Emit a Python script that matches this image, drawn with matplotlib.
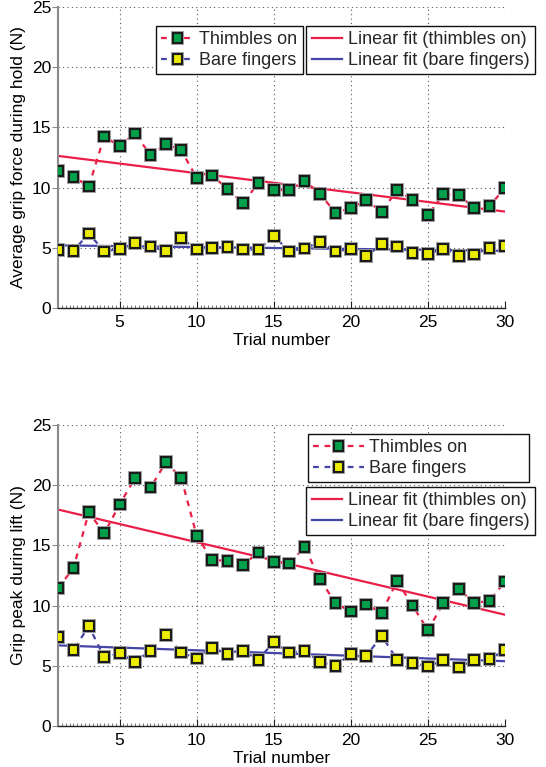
import matplotlib
matplotlib.use('Agg')
import matplotlib.pyplot as plt
import matplotlib.patheffects as pe
from matplotlib.legend_handler import HandlerTuple
from matplotlib.ticker import MultipleLocator
import numpy as np

plt.rcParams['font.family'] = ['Liberation Sans', 'DejaVu Sans']
plt.rcParams['font.size'] = 12.5
plt.rcParams['text.color'] = '#262626'

trials = np.arange(1, 31)

# grip force during hold (N)
hold_thimbles = [11.4, 10.9, 10.1, 14.25, 13.45, 14.5, 12.7, 13.6, 13.1, 10.8,
                 11.0, 9.9, 8.7, 10.4, 9.8, 9.8, 10.55, 9.5, 7.9, 8.3,
                 8.95, 8.0, 9.8, 9.0, 7.7, 9.45, 9.4, 8.3, 8.5, 9.95]
hold_bare = [4.8, 4.75, 6.2, 4.7, 4.9, 5.4, 5.1, 4.75, 5.8, 4.85,
             5.0, 5.05, 4.85, 4.85, 6.0, 4.7, 4.95, 5.5, 4.7, 4.9,
             4.3, 5.3, 5.1, 4.6, 4.5, 4.9, 4.3, 4.45, 5.0, 5.15]

# grip peak during lift (N)
lift_thimbles = [11.45, 13.1, 17.75, 16.0, 18.4, 20.6, 19.8, 21.9, 20.6, 15.8,
                 13.8, 13.7, 13.4, 14.4, 13.6, 13.5, 14.85, 12.2, 10.2, 9.5,
                 10.1, 9.4, 12.05, 10.0, 7.95, 10.2, 11.4, 10.2, 10.4, 12.0]
lift_bare = [7.4, 6.3, 8.3, 5.7, 6.05, 5.3, 6.25, 7.55, 6.1, 5.6,
             6.5, 6.0, 6.25, 5.5, 7.0, 6.1, 6.25, 5.3, 5.0, 6.0,
             5.8, 7.5, 5.5, 5.25, 4.95, 5.45, 4.85, 5.5, 5.55, 6.3]

red = '#ea1f48'
blue = '#4545a8'
green = '#00a04a'
yellow = '#ecec00'

halo = [pe.Stroke(linewidth=2.8, foreground='#a0a0a0'), pe.Normal()]


def draw_series(ax, values, line_color, face_color):
    dashed, = ax.plot(trials, values, color=line_color, lw=1.6,
                      dashes=(2.6, 2.6), zorder=3)
    squares, = ax.plot(trials, values, ls='none', marker='s', ms=7,
                       mfc=face_color, mec='#1a1a1a', mew=1.5, zorder=4,
                       path_effects=halo)
    return (dashed, squares)


def draw_fit(ax, values, color):
    slope, intercept = np.polyfit(trials, values, 1)
    fit, = ax.plot(trials, slope * trials + intercept, color=color, lw=1.6,
                   zorder=2)
    return fit


def style_axes(ax, ylabel):
    ax.set_xlim(1, 30)
    ax.set_ylim(0, 25)
    ax.set_xticks([5, 10, 15, 20, 25, 30])
    ax.set_yticks([0, 5, 10, 15, 20, 25])
    ax.xaxis.set_minor_locator(MultipleLocator(0.25))
    ax.grid(True, which='major', ls=(0, (1, 3)), color='#555555', lw=0.8)
    ax.spines['top'].set_visible(False)
    ax.spines['right'].set_visible(False)
    ax.spines['left'].set_color('#8a8a8a')
    ax.spines['left'].set_linewidth(1.5)
    ax.spines['bottom'].set_color('#222222')
    ax.spines['bottom'].set_linewidth(1.0)
    ax.tick_params(axis='y', direction='out', length=4, color='#8a8a8a',
                   labelsize=12.5, pad=1)
    ax.tick_params(axis='x', which='major', direction='in', length=5,
                   color='#222222', labelsize=12.5, pad=5)
    ax.tick_params(axis='x', which='minor', direction='in', length=2,
                   color='#444444', width=0.5)
    ax.set_xlabel('Trial number', labelpad=2)
    ax.set_ylabel(ylabel, labelpad=4)


legend_kw = dict(frameon=True, fancybox=False, edgecolor='#111111',
                 framealpha=1, fontsize=13, borderpad=0.3, labelspacing=0.2,
                 handletextpad=0.3, borderaxespad=0)
tuple_map = {tuple: HandlerTuple(ndivide=1, pad=0)}

fig = plt.figure(figsize=(5.46, 7.67), dpi=100)
ax1 = fig.add_axes([0.1062, 0.5984, 0.8187, 0.3924])
ax2 = fig.add_axes([0.1062, 0.0535, 0.8187, 0.3924])

# top panel: average grip force during hold
h_th = draw_series(ax1, hold_thimbles, red, green)
h_bf = draw_series(ax1, hold_bare, blue, yellow)
f_th = draw_fit(ax1, hold_thimbles, red)
f_bf = draw_fit(ax1, hold_bare, blue)
style_axes(ax1, 'Average grip force during hold (N)')

leg1 = ax1.legend([h_th, h_bf], ['Thimbles on', 'Bare fingers'],
                  handler_map=tuple_map,
                  loc='upper left', bbox_to_anchor=(0.219, 0.937),
                  handlelength=1.8, **legend_kw)
ax1.add_artist(leg1)
ax1.legend([f_th, f_bf], ['Linear fit (thimbles on)', 'Linear fit (bare fingers)'],
           loc='upper right', bbox_to_anchor=(1.067, 0.937),
           handlelength=1.7, **legend_kw)

# bottom panel: grip peak during lift
l_th = draw_series(ax2, lift_thimbles, red, green)
l_bf = draw_series(ax2, lift_bare, blue, yellow)
g_th = draw_fit(ax2, lift_thimbles, red)
g_bf = draw_fit(ax2, lift_bare, blue)
style_axes(ax2, 'Grip peak during lift (N)')

leg2 = ax2.legend([l_th, l_bf], ['Thimbles on', 'Bare fingers'],
                  handler_map=tuple_map,
                  loc='upper left', bbox_to_anchor=(0.559, 0.97, 0.495, 0.0),
                  mode='expand', handlelength=2.8, **legend_kw)
ax2.add_artist(leg2)
ax2.legend([g_th, g_bf], ['Linear fit (thimbles on)', 'Linear fit (bare fingers)'],
           loc='upper right', bbox_to_anchor=(1.067, 0.794),
           handlelength=1.7, **legend_kw)

fig.savefig('out.png', dpi=100)
